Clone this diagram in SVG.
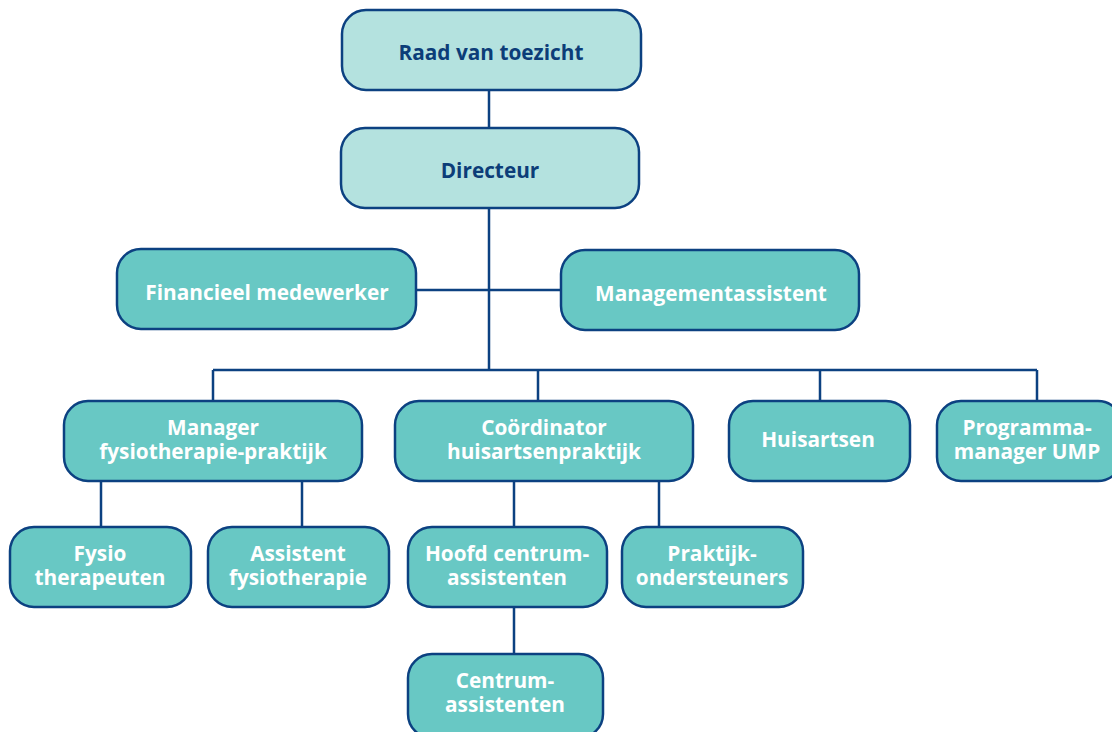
<svg xmlns="http://www.w3.org/2000/svg" width="1112" height="732" viewBox="0 0 1112 732">
<style>
.box{fill:#68c8c4;stroke:#0c4181;stroke-width:2.5}
.top{fill:#b4e2df;stroke:#0c4181;stroke-width:2.5}
.t{font-family:"Open Sans","Noto Sans",sans-serif;font-weight:bold;font-size:20.8px;fill:#ffffff;text-anchor:middle}
.tt{font-family:"Open Sans","Noto Sans",sans-serif;font-weight:bold;font-size:20.8px;fill:#0c3d78;text-anchor:middle}
.c{stroke:#0c4181;stroke-width:2.5;fill:none}
</style>
<rect width="1112" height="732" fill="#ffffff"/>
<g id="connectors">
<path class="c" d="M489 90V128M489 208V370M416 290H561M213 370H1037M213 370V401M538 370V401M820 370V401M1037 370V401M101 481V527M302 481V527M514 481V527M659 481V527M514 607V654"/>
</g>
<g id="raad"><rect class="top" x="342" y="10" width="299" height="80" rx="24"/><text class="tt" x="491" y="60">Raad van toezicht</text></g>
<g id="directeur"><rect class="top" x="341" y="128" width="298" height="80" rx="24"/><text class="tt" x="490" y="178">Directeur</text></g>
<g id="financieel"><rect class="box" x="117" y="249" width="299" height="80" rx="24"/><text class="t" x="267" y="300">Financieel medewerker</text></g>
<g id="managementassistent"><rect class="box" x="561" y="250" width="298" height="80" rx="24"/><text class="t" x="711" y="301">Managementassistent</text></g>
<g id="manager"><rect class="box" x="64" y="401" width="298" height="80" rx="24"/><text class="t"><tspan x="213" y="435">Manager</tspan><tspan x="213" y="459">fysiotherapie-praktijk</tspan></text></g>
<g id="coordinator"><rect class="box" x="395" y="401" width="298" height="80" rx="24"/><text class="t"><tspan x="544" y="435">Coördinator</tspan><tspan x="544" y="459">huisartsenpraktijk</tspan></text></g>
<g id="huisartsen"><rect class="box" x="729" y="401" width="181" height="80" rx="24"/><text class="t" x="818" y="447">Huisartsen</text></g>
<g id="programma"><rect class="box" x="937" y="401" width="185" height="80" rx="24"/><text class="t"><tspan x="1027" y="435">Programma-</tspan><tspan x="1027" y="459">manager UMP</tspan></text></g>
<g id="fysio"><rect class="box" x="10" y="527" width="181" height="80" rx="24"/><text class="t"><tspan x="100" y="561">Fysio</tspan><tspan x="100" y="585">therapeuten</tspan></text></g>
<g id="assistent"><rect class="box" x="208" y="527" width="181" height="80" rx="24"/><text class="t"><tspan x="298" y="561">Assistent</tspan><tspan x="298" y="585">fysiotherapie</tspan></text></g>
<g id="hoofd"><rect class="box" x="408" y="527" width="199" height="80" rx="24"/><text class="t"><tspan x="507" y="561">Hoofd centrum-</tspan><tspan x="507" y="585">assistenten</tspan></text></g>
<g id="praktijk"><rect class="box" x="622" y="527" width="181" height="80" rx="24"/><text class="t"><tspan x="712" y="561">Praktijk-</tspan><tspan x="712" y="585">ondersteuners</tspan></text></g>
<g id="centrum"><rect class="box" x="408" y="654" width="195" height="84" rx="24"/><text class="t"><tspan x="505" y="688">Centrum-</tspan><tspan x="505" y="712">assistenten</tspan></text></g>
</svg>
